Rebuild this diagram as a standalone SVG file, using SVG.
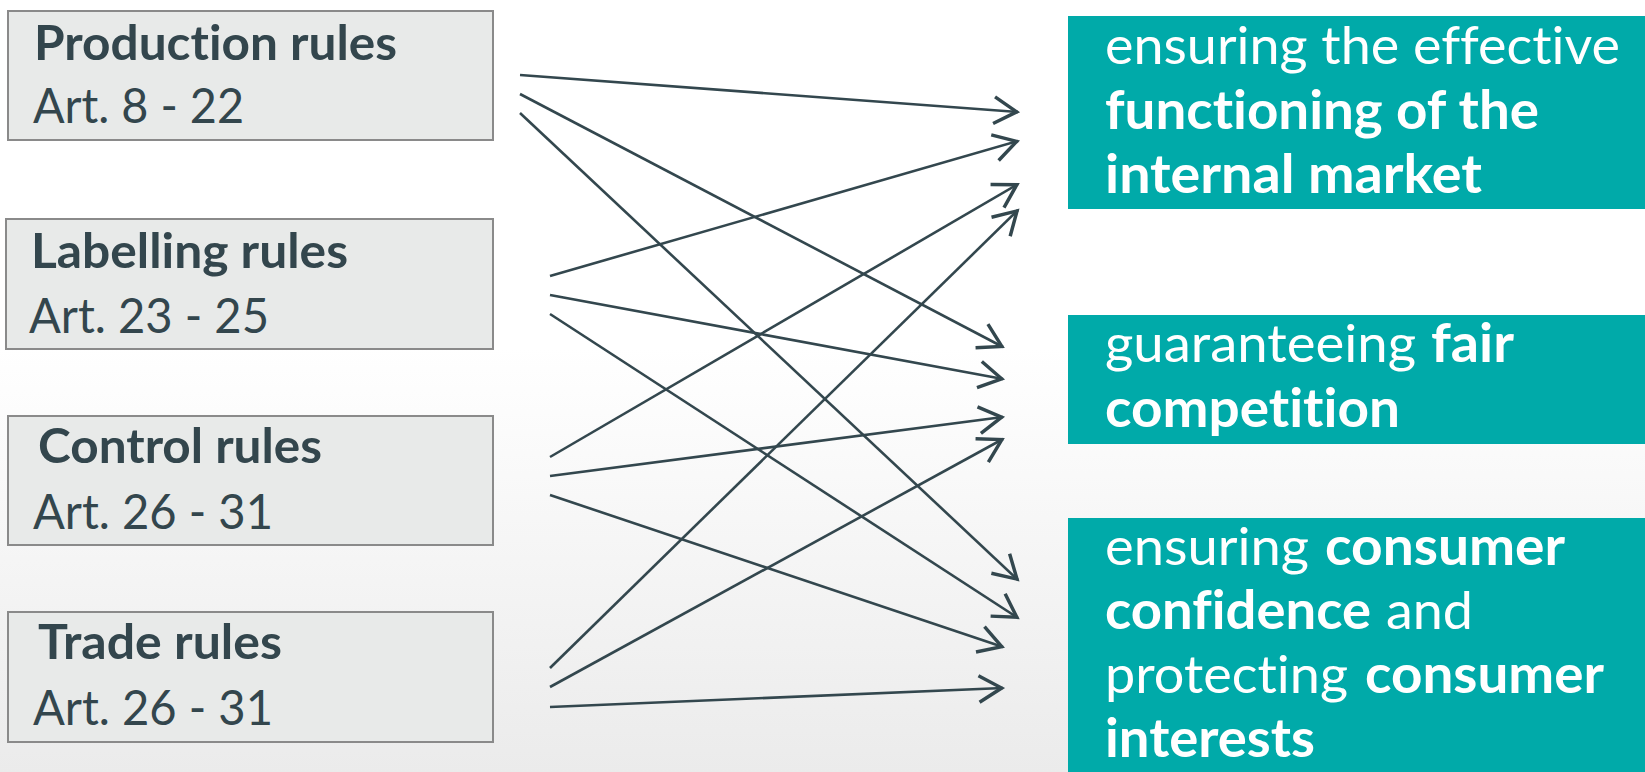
<svg xmlns="http://www.w3.org/2000/svg" width="1645" height="772" viewBox="0 0 1645 772">
<defs>
<linearGradient id="bg" x1="0" y1="0" x2="0" y2="1">
<stop offset="0" stop-color="#FFFFFF"/>
<stop offset="0.45" stop-color="#FFFFFF"/>
<stop offset="1" stop-color="#EBEBEB"/>
</linearGradient>
<marker id="arr" markerUnits="userSpaceOnUse" markerWidth="40" markerHeight="40" viewBox="-25 -15 30 30" refX="0" refY="0" orient="auto" overflow="visible">
<path d="M-18,-10 L-1,0 L-18,10" fill="none" stroke="#33474E" stroke-width="2.6" stroke-linejoin="miter"/>
</marker>
<style>
text{font-variant-ligatures:none;font-feature-settings:"liga" 0,"clig" 0}
.src rect{fill:#E8EAE9;stroke:#8A8A8A;stroke-width:2}
.src text{font-family:Lato,"Liberation Sans",sans-serif;fill:#33464D;font-size:48px}
.b{font-weight:bold}
.dst rect{fill:#00AAA9}
.dst text{font-family:Lato,"Liberation Sans",sans-serif;fill:#FFFFFF;font-size:53px}
.conn line{stroke:#33474E;stroke-width:2.6;marker-end:url(#arr)}
</style>
</defs>
<rect x="0" y="0" width="1645" height="772" fill="url(#bg)"/>

<g id="production" class="src">
<rect x="8" y="11" width="485" height="129"/>
<text class="b" x="34" y="60" textLength="363" lengthAdjust="spacingAndGlyphs">Production rules</text>
<text x="33" y="123" textLength="211" lengthAdjust="spacingAndGlyphs">Art. 8 - 22</text>
</g>
<g id="labelling" class="src">
<rect x="6" y="219" width="487" height="130"/>
<text class="b" x="31" y="268" textLength="317" lengthAdjust="spacingAndGlyphs">Labelling rules</text>
<text x="29" y="333" textLength="240" lengthAdjust="spacingAndGlyphs">Art. 23 - 25</text>
</g>
<g id="control" class="src">
<rect x="8" y="416" width="485" height="129"/>
<text class="b" x="38" y="463" textLength="284" lengthAdjust="spacingAndGlyphs">Control rules</text>
<text x="33" y="529" textLength="240" lengthAdjust="spacingAndGlyphs">Art. 26 - 31</text>
</g>
<g id="trade" class="src">
<rect x="8" y="612" width="485" height="130"/>
<text class="b" x="38" y="659" textLength="244" lengthAdjust="spacingAndGlyphs">Trade rules</text>
<text x="33" y="725" textLength="240" lengthAdjust="spacingAndGlyphs">Art. 26 - 31</text>
</g>

<g id="internal-market" class="dst">
<rect x="1068" y="16" width="577" height="193"/>
<text x="1105" y="64" textLength="515" lengthAdjust="spacingAndGlyphs">ensuring the effective</text>
<text class="b" x="1105" y="128.5" textLength="434" lengthAdjust="spacingAndGlyphs">functioning of the</text>
<text class="b" x="1105" y="193" textLength="377" lengthAdjust="spacingAndGlyphs">internal market</text>
</g>
<g id="fair-competition" class="dst">
<rect x="1068" y="315" width="577" height="129"/>
<text x="1105" y="362" textLength="311" lengthAdjust="spacingAndGlyphs">guaranteeing</text>
<text class="b" x="1431" y="362" textLength="83" lengthAdjust="spacingAndGlyphs">fair</text>
<text class="b" x="1105" y="427" textLength="295" lengthAdjust="spacingAndGlyphs">competition</text>
</g>
<g id="consumer" class="dst">
<rect x="1068" y="518" width="577" height="254"/>
<text x="1105" y="565" textLength="204" lengthAdjust="spacingAndGlyphs">ensuring</text>
<text class="b" x="1325" y="565" textLength="240" lengthAdjust="spacingAndGlyphs">consumer</text>
<text class="b" x="1105" y="629" textLength="266" lengthAdjust="spacingAndGlyphs">confidence</text>
<text x="1386" y="629" textLength="87" lengthAdjust="spacingAndGlyphs">and</text>
<text x="1105" y="693" textLength="243" lengthAdjust="spacingAndGlyphs">protecting</text>
<text class="b" x="1365" y="693" textLength="239" lengthAdjust="spacingAndGlyphs">consumer</text>
<text class="b" x="1105" y="757" textLength="210" lengthAdjust="spacingAndGlyphs">interests</text>
</g>

<g id="connectors" class="conn">
<line x1="520" y1="75" x2="1018" y2="112"/>
<line x1="520" y1="94" x2="1003" y2="347"/>
<line x1="520" y1="113" x2="1018" y2="580"/>
<line x1="550" y1="276" x2="1018" y2="141"/>
<line x1="550" y1="295" x2="1003" y2="379"/>
<line x1="550" y1="314" x2="1018" y2="618"/>
<line x1="550" y1="457" x2="1018" y2="184"/>
<line x1="550" y1="476" x2="1003" y2="417"/>
<line x1="550" y1="495" x2="1003" y2="647"/>
<line x1="550" y1="668" x2="1018" y2="210"/>
<line x1="550" y1="687" x2="1003" y2="439"/>
<line x1="550" y1="707" x2="1003" y2="688"/>
</g>
</svg>
